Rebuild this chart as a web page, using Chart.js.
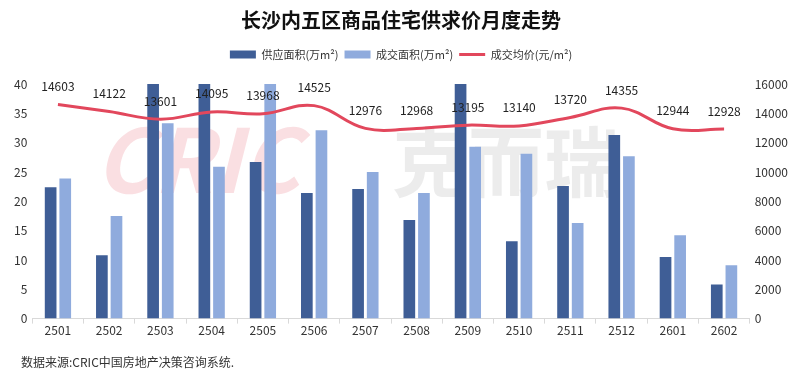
<!DOCTYPE html>
<html>
<head>
<meta charset="utf-8">
<script src="https://cdn.jsdelivr.net/npm/chart.js@4/dist/chart.umd.min.js"></script>
<style>
body { margin: 0; background: #fff; }
#wrap { position: relative; width: 801px; height: 378px; }
#source { position: absolute; left: 21px; top: 353px; font: 12px "Noto Sans CJK SC", sans-serif; color: #333; }
</style>
</head>
<body>
<div id="wrap">
  <canvas id="chart_cs"></canvas>
  <div id="source">数据来源:CRIC中国房地产决策咨询系统.</div>
</div>
<script>
// months (yymm)
var months = ['2501', '2502', '2503', '2504', '2505', '2506', '2507', '2508', '2509', '2510', '2511', '2512', '2601', '2602'];
// 供应面积 (万m²) - a few bars run past the top of the axis in the original
var supplyArea = [22.4, 10.8, 46.0, 42.5, 26.7, 21.4, 22.1, 16.8, 52.0, 13.2, 22.6, 31.3, 10.5, 5.8];
// 成交面积 (万m²)
var dealArea = [23.9, 17.5, 33.3, 25.9, 41.0, 32.1, 25.0, 21.4, 29.3, 28.1, 16.3, 27.7, 14.2, 9.1];
// 成交均价 (元/m²)
var dealPrice = [14603, 14122, 13601, 14095, 13968, 14525, 12976, 12968, 13195, 13140, 13720, 14355, 12944, 12928];

var fontFamily = '"Noto Sans CJK SC", "Noto Sans", sans-serif';

var chart_cs = new Chart(document.getElementById('chart_cs'), {
    type: 'bar',
    data: {
        labels: months,
        datasets: [
            {
                label: '供应面积(万m²)',
                data: supplyArea,
                backgroundColor: '#3F5E96',
                yAxisID: 'y',
                order: 2
            },
            {
                label: '成交面积(万m²)',
                data: dealArea,
                backgroundColor: '#8FABDD',
                yAxisID: 'y',
                order: 2
            },
            {
                type: 'line',
                label: '成交均价(元/m²)',
                data: dealPrice,
                borderColor: '#E2475C',
                backgroundColor: '#E2475C',
                borderWidth: 3,
                pointRadius: 0,
                tension: 0.4,
                yAxisID: 'y1',
                order: 1
            }
        ]
    },
    options: {
        animation: false,
        responsive: true,
        maintainAspectRatio: false,
        categoryPercentage: 0.57,
        barPercentage: 0.8,
        layout: {
            padding: { left: 9, right: 8, bottom: 40 }
        },
        plugins: {
            title: {
                display: true,
                text: '长沙内五区商品住宅供求价月度走势',
                color: '#111',
                font: { family: fontFamily, size: 20, weight: 'bold' },
                padding: { top: 8, bottom: 11 }
            },
            legend: {
                position: 'top',
                labels: {
                    color: '#333',
                    font: { family: fontFamily, size: 11 },
                    usePointStyle: true,
                    pointStyleWidth: 26,
                    boxHeight: 8,
                    padding: 6,
                    sort: (a, b) => a.datasetIndex - b.datasetIndex,
                    generateLabels: (chart) => {
                        var items = Chart.defaults.plugins.legend.labels.generateLabels(chart);
                        items.forEach(it => {
                            var ds = chart.data.datasets[it.datasetIndex];
                            it.pointStyle = ds.type === 'line' ? 'line' : 'rect';
                            it.lineWidth = ds.type === 'line' ? 3 : 0;
                            it.strokeStyle = ds.type === 'line' ? ds.borderColor : ds.backgroundColor;
                        });
                        return items;
                    }
                }
            },
            tooltip: { enabled: false }
        },
        scales: {
            x: {
                grid: {
                    offset: true,
                    drawOnChartArea: false,
                    tickLength: 5,
                    color: '#D9D9D9'
                },
                border: { color: '#D9D9D9' },
                ticks: {
                    color: '#333',
                    font: { family: fontFamily, size: 12 },
                    padding: 0
                }
            },
            y: {
                position: 'left',
                min: 0,
                max: 40,
                ticks: {
                    stepSize: 5,
                    color: '#333',
                    font: { family: fontFamily, size: 12 },
                    padding: 5
                },
                grid: { display: false, drawTicks: false },
                border: { display: false }
            },
            y1: {
                position: 'right',
                min: 0,
                max: 16000,
                ticks: {
                    stepSize: 2000,
                    color: '#333',
                    font: { family: fontFamily, size: 12 },
                    padding: 5,
                    callback: (v) => String(v)
                },
                grid: { display: false, drawTicks: false },
                border: { display: false }
            }
        }
    },
    plugins: [{
        id: 'legendGap',
        beforeLayout: (chart) => {
            const lg = chart.legend;
            if (lg && !lg._gapPatched) {
                const origFit = lg.fit;
                lg.fit = function () {
                    origFit.apply(this, arguments);
                    this.height += 14;
                };
                lg._gapPatched = true;
            }
        }
    }, {
        id: 'watermark',
        beforeDatasetsDraw: (chart) => {
            const ctx = chart.ctx;
            ctx.save();
            ctx.font = 'italic bold 88px ' + fontFamily;
            ctx.fillStyle = 'rgba(236, 120, 135, 0.24)';
            ctx.textBaseline = 'middle';
            ctx.fillText('CRIC', 95, 160);
            ctx.font = 'bold 76px ' + fontFamily;
            ctx.fillStyle = 'rgba(170, 170, 170, 0.22)';
            ctx.fillText('克而瑞', 392, 162);
            ctx.restore();
        }
    }, {
        id: 'priceLabels',
        afterDatasetsDraw: (chart) => {
            const ctx = chart.ctx;
            const meta = chart.getDatasetMeta(2);
            ctx.save();
            ctx.font = '12px ' + fontFamily;
            ctx.fillStyle = '#222';
            ctx.textAlign = 'center';
            ctx.textBaseline = 'middle';
            meta.data.forEach((pt, i) => {
                ctx.fillText(String(dealPrice[i]), pt.x, pt.y - 18);
            });
            ctx.restore();
        }
    }, {
        id: 'whiteBg',
        beforeDraw: (chart) => {
            const ctx = chart.canvas.getContext('2d');
            ctx.save();
            ctx.globalCompositeOperation = 'destination-over';
            ctx.fillStyle = 'white';
            ctx.fillRect(0, 0, chart.canvas.width, chart.canvas.height);
            ctx.restore();
        }
    }]
});
</script>
</body>
</html>
